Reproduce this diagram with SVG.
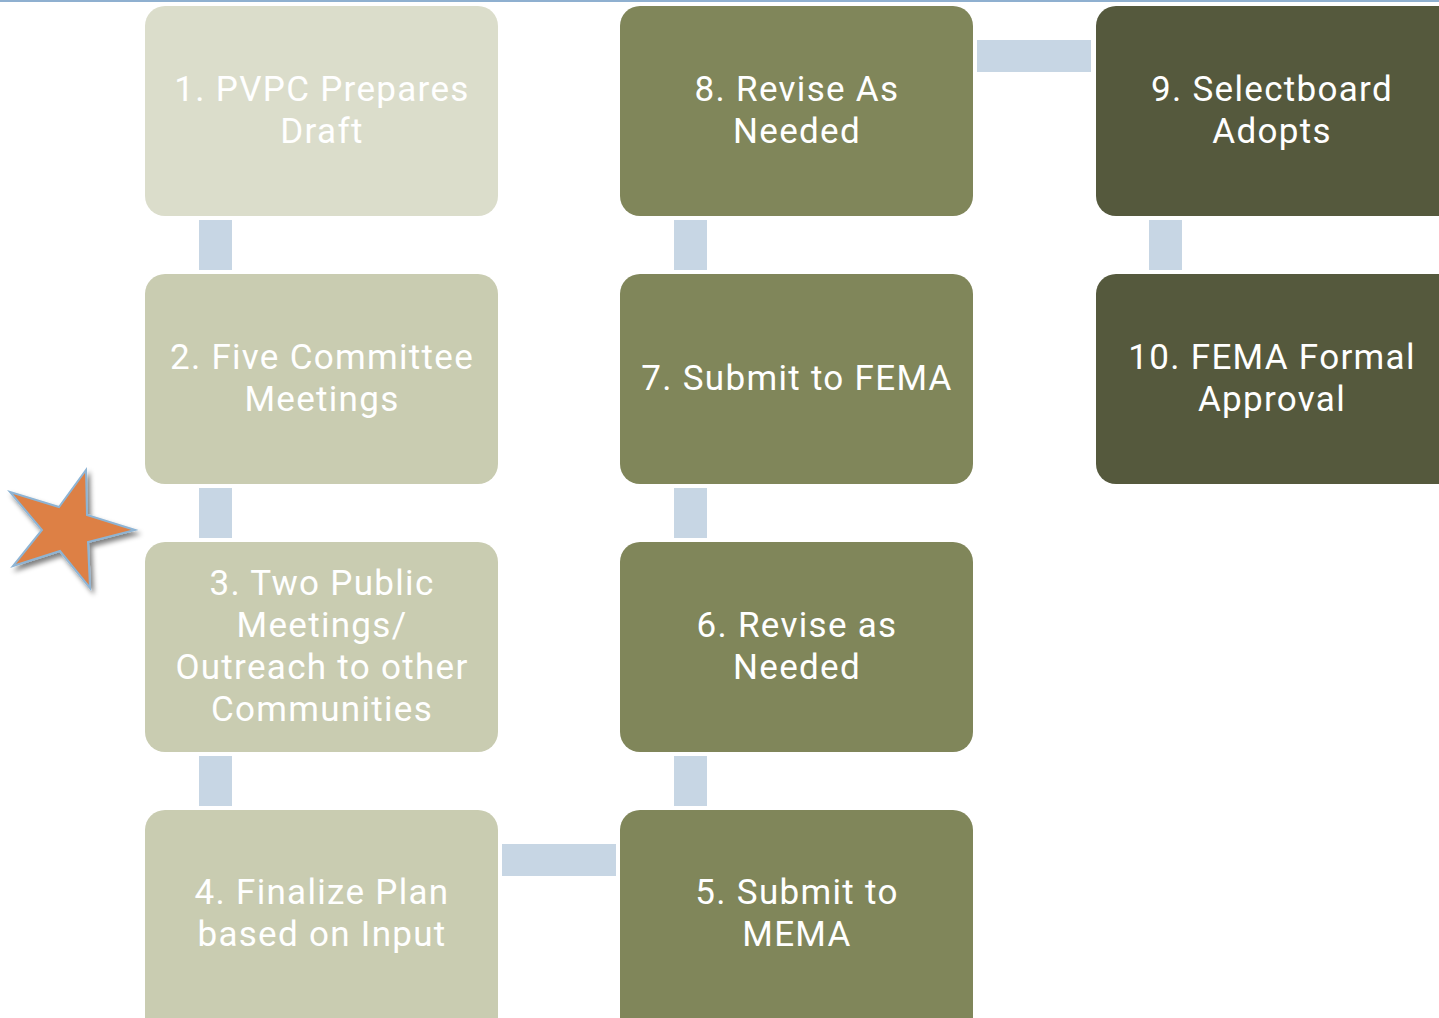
<svg xmlns="http://www.w3.org/2000/svg" width="1439" height="1018" viewBox="0 0 1439 1018">
<defs>
<style>
.n rect{stroke:none}
.c1{fill:#dbddcb}
.c2{fill:#c9ccb1}
.c3{fill:#80865a}
.c4{fill:#55593d}
.t{font-family:Roboto,"Liberation Sans",sans-serif;font-size:35px;fill:#ffffff;text-anchor:middle;letter-spacing:1.3px}
.k{fill:#c7d6e4}
</style>
<filter id="sh" x="-30%" y="-30%" width="160%" height="160%">
<feGaussianBlur in="SourceAlpha" stdDeviation="2.5"/>
<feOffset dx="3" dy="4" result="b"/>
<feComponentTransfer><feFuncA type="linear" slope="0.5"/></feComponentTransfer>
<feMerge><feMergeNode/><feMergeNode in="SourceGraphic"/></feMerge>
</filter>
</defs>
<rect width="1439" height="1018" fill="#ffffff"/>
<rect x="0" y="0" width="1439" height="2" fill="#8fb0d0"/>
<g id="connectors">
<rect class="k" x="199" y="220" width="33" height="50"/>
<rect class="k" x="199" y="488" width="33" height="50"/>
<rect class="k" x="199" y="756" width="33" height="50"/>
<rect class="k" x="502" y="844" width="114" height="32"/>
<rect class="k" x="674" y="756" width="33" height="50"/>
<rect class="k" x="674" y="488" width="33" height="50"/>
<rect class="k" x="674" y="220" width="33" height="50"/>
<rect class="k" x="977" y="40" width="114" height="32"/>
<rect class="k" x="1149" y="220" width="33" height="50"/>
</g>
<g id="n1" class="n"><rect class="c1" x="145" y="6" width="353" height="210" rx="20"/>
<text class="t" x="322" y="101">1. PVPC Prepares<tspan x="322" dy="42">Draft</tspan></text></g>
<g id="n2" class="n"><rect class="c2" x="145" y="274" width="353" height="210" rx="20"/>
<text class="t" x="322" y="369">2. Five Committee<tspan x="322" dy="42">Meetings</tspan></text></g>
<g id="n3" class="n"><rect class="c2" x="145" y="542" width="353" height="210" rx="20"/>
<text class="t" x="322" y="595">3. Two Public<tspan x="322" dy="42">Meetings/</tspan><tspan x="322" dy="42">Outreach to other</tspan><tspan x="322" dy="42">Communities</tspan></text></g>
<g id="n4" class="n"><rect class="c2" x="145" y="810" width="353" height="230" rx="20"/>
<text class="t" x="322" y="904">4. Finalize Plan<tspan x="322" dy="42">based on Input</tspan></text></g>
<g id="n5" class="n"><rect class="c3" x="620" y="810" width="353" height="230" rx="20"/>
<text class="t" x="797" y="904">5. Submit to<tspan x="797" dy="42">MEMA</tspan></text></g>
<g id="n6" class="n"><rect class="c3" x="620" y="542" width="353" height="210" rx="20"/>
<text class="t" x="797" y="637">6. Revise as<tspan x="797" dy="42">Needed</tspan></text></g>
<g id="n7" class="n"><rect class="c3" x="620" y="274" width="353" height="210" rx="20"/>
<text class="t" x="797" y="390">7. Submit to FEMA</text></g>
<g id="n8" class="n"><rect class="c3" x="620" y="6" width="353" height="210" rx="20"/>
<text class="t" x="797" y="101">8. Revise As<tspan x="797" dy="42">Needed</tspan></text></g>
<g id="n9" class="n"><rect class="c4" x="1096" y="6" width="373" height="210" rx="20"/>
<text class="t" x="1272" y="101">9. Selectboard<tspan x="1272" dy="42">Adopts</tspan></text></g>
<g id="n10" class="n"><rect class="c4" x="1096" y="274" width="373" height="210" rx="20"/>
<text class="t" x="1272" y="369">10. FEMA Formal<tspan x="1272" dy="42">Approval</tspan></text></g>
<g id="star"><polygon points="10,492 59,507 86,470 87,515 135,530 88,542 90,588 60,551 13,566 42,530" fill="#dd8044" stroke="#8eb4d4" stroke-width="2" stroke-linejoin="miter" filter="url(#sh)"/></g>
</svg>
